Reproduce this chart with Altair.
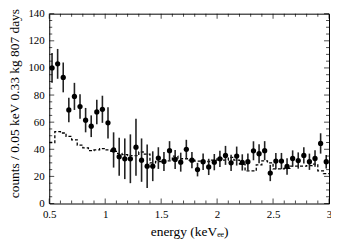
import altair as alt
import pandas as pd

# --- data ---
energy = [0.525, 0.575, 0.625, 0.675, 0.725, 0.775, 0.825, 0.875, 0.925, 0.975,
          1.025, 1.075, 1.125, 1.175, 1.225, 1.275, 1.325, 1.375, 1.425, 1.475,
          1.525, 1.575, 1.625, 1.675, 1.725, 1.775, 1.825, 1.875, 1.925, 1.975,
          2.025, 2.075, 2.125, 2.175, 2.225, 2.275, 2.325, 2.375, 2.425, 2.475,
          2.525, 2.575, 2.625, 2.675, 2.725, 2.775, 2.825, 2.875, 2.925, 2.975]
counts = [100, 103, 93, 69, 79, 71.5, 61.5, 57, 67.5, 69.5,
          59.5, 39.5, 34.5, 33, 33, 41.5, 32, 27.5, 27.5, 33.5,
          31, 39, 32.5, 30.5, 40, 32, 25, 30.8, 27, 30.5,
          33, 35.5, 30, 35, 30.3, 30.8, 38.9, 36.7, 39, 22.5,
          31.3, 31.3, 27.3, 33.2, 31.7, 35.5, 30.8, 33.2, 44.3, 30.8]
errors = [11, 11, 11, 9, 10, 9, 9, 8, 9, 10,
          11.5, 13, 14, 15, 18, 21, 16, 16, 11, 8,
          7, 7, 7, 7, 7, 6, 5, 6, 6, 6,
          6, 7, 6, 7, 6, 6, 7, 7, 7, 6,
          6, 6, 6, 6, 6, 6, 6, 6, 7.5, 5]

# dashed histogram (bin left edges, last entry closes the final bin)
hist_edges = [0.50, 0.55, 0.60, 0.65, 0.70, 0.75, 0.80, 0.85, 0.90, 0.95,
              1.00, 1.05, 1.10, 1.15, 1.20, 1.25, 1.30, 1.35, 1.40, 1.45,
              1.50, 1.55, 1.60, 1.65, 1.70, 1.75, 1.80, 1.85, 1.90, 1.95,
              2.00, 2.05, 2.10, 2.15, 2.20, 2.25, 2.30, 2.35, 2.40, 2.45,
              2.50, 2.55, 2.60, 2.65, 2.70, 2.75, 2.80, 2.85, 2.90, 2.95, 3.00]
hist_vals = [45, 53, 52, 49.5, 47, 43, 41, 39, 39.5, 40.5,
             39.5, 38.5, 37, 36, 35.3, 35.3, 38, 36.5, 30, 31,
             31.3, 31.5, 35, 33, 33, 32, 31.3, 31, 31, 32,
             33, 32, 34, 32, 29, 24, 24, 28.5, 31.5, 30,
             25.5, 25.5, 26, 27.5, 27.5, 27.5, 28, 29, 24, 22, 22]

x_major = [0.5, 1.0, 1.5, 2.0, 2.5, 3.0]
x_minor = [0.6, 0.7, 0.8, 0.9, 1.1, 1.2, 1.3, 1.4, 1.6, 1.7, 1.8, 1.9,
           2.1, 2.2, 2.3, 2.4, 2.6, 2.7, 2.8, 2.9]
y_major = [0, 20, 40, 60, 80, 100, 120, 140]
y_minor = [5, 10, 15, 25, 30, 35, 45, 50, 55, 65, 70, 75, 85, 90, 95,
           105, 110, 115, 125, 130, 135]

pts = pd.DataFrame({"energy": energy, "counts": counts,
                    "lo": [c - e for c, e in zip(counts, errors)],
                    "hi": [c + e for c, e in zip(counts, errors)]})
hist = pd.DataFrame({"energy": hist_edges, "counts": hist_vals})

W, H = 281.5, 191
FONT = "Liberation Serif"

xs = alt.Scale(domain=[0.5, 3.0], nice=False, zero=False)
ys = alt.Scale(domain=[0, 140], nice=False)

xaxis = alt.Axis(values=x_major, format="~g", ticks=False, domain=False, grid=False,
                 labelPadding=5, labelFont=FONT, labelFontSize=11, labelColor="black",
                 labelOverlap=False, labelFlush=False,
                 title="energy (keVₑₑ)", titleFont=FONT, titleFontSize=13.5,
                 titleFontWeight="normal", titleColor="black",
                 titleY=28, titleBaseline="middle")
yaxis = alt.Axis(values=y_major, ticks=False, domain=False, grid=False,
                 labelPadding=5, labelFont=FONT, labelFontSize=11, labelColor="black",
                 labelOverlap=False, labelFlush=False,
                 title="counts / 0.05 keV 0.33 kg 807 days", titleFont=FONT,
                 titleFontSize=13.5, titleFontWeight="normal", titleColor="black",
                 titleX=-35, titleY=90, titleAlign="center", titleBaseline="middle")

def X(field):
    return alt.X(field, scale=xs, axis=xaxis)

def Y(field):
    return alt.Y(field, scale=ys, axis=yaxis)

step = alt.Chart(hist).mark_line(interpolate="step-after", color="black",
                                 strokeWidth=1.3, strokeDash=[3, 2]).encode(
    x=X("energy:Q"), y=Y("counts:Q"))

bars = alt.Chart(pts).mark_rule(color="#222", strokeWidth=1.6).encode(
    x=X("energy:Q"), y=Y("lo:Q"), y2="hi:Q")

dots = alt.Chart(pts).mark_circle(color="black", size=28, opacity=1).encode(
    x=X("energy:Q"), y=Y("counts:Q"))

def xticks(vals, length):
    df = pd.DataFrame({"t": vals})
    bot = alt.Chart(df).mark_tick(color="black", size=length, thickness=1).encode(
        x=X("t:Q"), y=alt.value(H - length / 2))
    top = alt.Chart(df).mark_tick(color="black", size=length, thickness=1).encode(
        x=X("t:Q"), y=alt.value(length / 2))
    return [bot, top]

def yticks(vals, length):
    df = pd.DataFrame({"t": vals})
    left = alt.Chart(df).mark_tick(color="black", size=length, thickness=1,
                                   orient="horizontal").encode(
        y=Y("t:Q"), x=alt.value(length / 2))
    right = alt.Chart(df).mark_tick(color="black", size=length, thickness=1,
                                    orient="horizontal").encode(
        y=Y("t:Q"), x=alt.value(W - length / 2))
    return [left, right]

layers = [step, bars, dots] + xticks(x_major, 5) + xticks(x_minor, 3) \
    + yticks(y_major, 5) + yticks(y_minor, 3)

chart = alt.layer(*layers).properties(
    width=W, height=H,
    autosize=alt.AutoSizeParams(type="none"),
    padding={"left": 41.5, "top": 5, "right": 2, "bottom": 38},
    background="white",
).configure_view(stroke="black", strokeWidth=1)

chart.save("out.html", embed_options={"renderer": "svg", "actions": False})
